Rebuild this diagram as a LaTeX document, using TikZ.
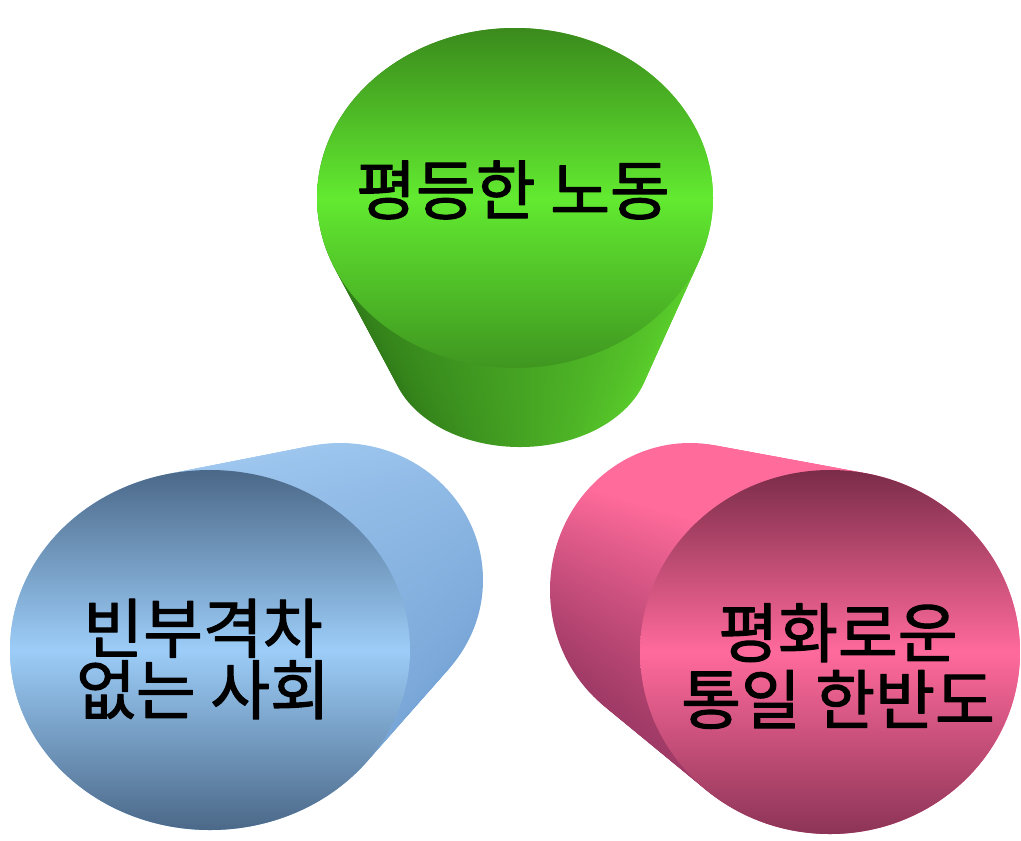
\documentclass[tikz,border=0pt]{standalone}
\usepackage{fontspec}
\newfontfamily\kr{Noto Sans CJK KR}[FakeBold=1.6]
\definecolor{gdark}{HTML}{3A8A1C}
\definecolor{glight}{HTML}{62EA30}
\definecolor{gbot}{HTML}{3F9620}
\definecolor{gside}{HTML}{2E7818}
\definecolor{gedge}{HTML}{5CD22C}
\definecolor{bdark}{HTML}{4B6888}
\definecolor{blight}{HTML}{9CCDF8}
\definecolor{bside}{HTML}{A0C8F0}
\definecolor{bedge}{HTML}{76A4D6}
\definecolor{pdark}{HTML}{7A2C48}
\definecolor{plight}{HTML}{FF6A9C}
\definecolor{pbot}{HTML}{8C3456}
\definecolor{pside}{HTML}{FF6B9B}
\definecolor{pedge}{HTML}{A03A66}
\tikzset{
  gbody/.style={left color=gside, right color=gedge, middle color=gbot!80!gedge},
  gface/.style={top color=gdark, bottom color=gbot, middle color=glight},
  bbody/.style={top color=bside, bottom color=bedge, shading angle=30},
  bface/.style={top color=bdark, bottom color=bdark, middle color=blight},
  pbody/.style={top color=pside, bottom color=pedge, middle color=pside, shading angle=-45},
  pface/.style={top color=pdark, bottom color=pbot, middle color=plight},
  txt/.style={align=center, text=black, inner sep=0pt}
}
\begin{document}
\begin{tikzpicture}[x=0.02cm, y=-0.02cm, line join=round, font=\kr\fontsize{37}{36}\selectfont]
	\useasboundingbox (0,0) rectangle (1021,840);
	\def \n{24};
	% green, pointing down
	\foreach \i in {0,...,\n}
		\shade[gbody] ({520-5*\i/\n},{355-157*\i/\n}) ellipse [x radius={130+68*\i/\n}, y radius={92+78*\i/\n}];
	\shade[gface] (515,198) ellipse [x radius=198, y radius=170];
	\node[txt] (labor) at (513,190) {평등한 노동};
	% blue, pointing up right
	\foreach \i in {0,...,\n}
		\shade[bbody] ({340-130*\i/\n},{580+70*\i/\n}) ellipse [x radius={143+57*\i/\n}, y radius={137+43*\i/\n}];
	\shade[bface] (210,650) ellipse [x radius=200, y radius=180];
	\node[txt] (society) at (203,659) {빈부격차\\[-1pt]없는 사회};
	% pink, pointing up left
	\foreach \i in {0,...,\n}
		\shade[pbody] ({690+140*\i/\n},{590+62*\i/\n}) ellipse [x radius={140+50*\i/\n}, y radius={147+35*\i/\n}];
	\shade[pface] (830,652) ellipse [x radius=190, y radius=182];
	\node[txt] (peace) at (838,666) {평화로운\\[2pt]통일 한반도};
\end{tikzpicture}
\end{document}
